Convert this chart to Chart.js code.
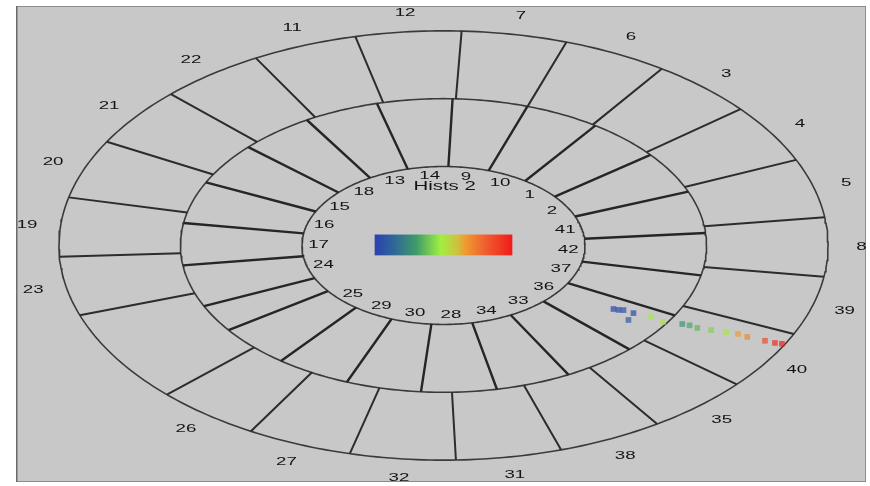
<!DOCTYPE html>
<html>
<head>
<meta charset="utf-8">
<script src="https://cdn.jsdelivr.net/npm/chart.js@4.4.0/dist/chart.umd.min.js"></script>
<style>
  html, body { margin: 0; padding: 0; background: #fff; }
  canvas { display: block; }
</style>
</head>
<body>
<canvas id="ringChart" width="870" height="486"></canvas>
<script>
// module numbers, counter-clockwise starting at the lower left
const outerLabels = ["26", "27", "32", "31", "38", "35", "40", "39", "8", "5", "4",
  "3", "6", "7", "12", "11", "22", "21", "20", "19", "23"];
const innerLabels = ["25", "29", "30", "28", "34", "33", "36", "37", "42", "41", "2",
  "1", "10", "9", "14", "13", "18", "15", "16", "17", "24"];

// hits (unit = outer radius) and their normalised amplitude
const hitX = [0.442, 0.455, 0.468, 0.494, 0.481, 0.540, 0.571, 0.621, 0.640, 0.660, 0.696, 0.735, 0.766, 0.790, 0.836, 0.862, 0.880];
const hitY = [-0.296, -0.300, -0.301, -0.315, -0.347, -0.333, -0.356, -0.366, -0.372, -0.384, -0.394, -0.403, -0.412, -0.426, -0.444, -0.454, -0.458];
const hitValue = [0.02, 0.04, 0.06, 0.04, 0.10, 0.48, 0.52, 0.28, 0.32, 0.36, 0.42, 0.50, 0.66, 0.70, 0.86, 0.95, 0.99];

const title = "Hists 2";

// ring geometry
const R_OUTER = 1, R_MID = 0.684, R_INNER = 0.368;
const OUTER_START = 224, OUTER_STEP = 15.95;
const INNER_START = 215.2, INNER_STEP = 16.63;

const rad = (d) => (d * Math.PI) / 180;

function ring(r) {
  const pts = [];
  for (let a = 0; a <= 360; a += 1) {
    pts.push({ x: r * Math.cos(rad(a)), y: r * Math.sin(rad(a)) });
  }
  return pts;
}

function spokes(start, step, n, r0, r1) {
  const pts = [];
  for (let k = 0; k <= n; k++) {
    const a = rad(start + k * step);
    pts.push({ x: r0 * Math.cos(a), y: r0 * Math.sin(a) });
    pts.push({ x: r1 * Math.cos(a), y: r1 * Math.sin(a) });
    pts.push({ x: 0, y: null });
  }
  return pts;
}

// palette shared by the hits and the colour bar
const palette = [
  [0.0, [42, 64, 176]],
  [0.15, [47, 106, 152]],
  [0.3, [63, 154, 106]],
  [0.48, [160, 240, 64]],
  [0.6, [208, 192, 64]],
  [0.66, [240, 154, 48]],
  [0.8, [240, 96, 48]],
  [1.0, [240, 26, 26]],
];

function colorFor(v, alpha) {
  let c = palette[palette.length - 1][1];
  for (let i = 1; i < palette.length; i++) {
    if (v <= palette[i][0]) {
      const [p0, c0] = palette[i - 1];
      const [p1, c1] = palette[i];
      const t = (v - p0) / (p1 - p0);
      c = c0.map((c, j) => Math.round(c + (c1[j] - c) * t));
      break;
    }
  }
  return `rgba(${c[0]}, ${c[1]}, ${c[2]}, ${alpha === undefined ? 1 : alpha})`;
}

const hits = hitX.map((x, i) => ({ x: x, y: hitY[i] }));

const FONT = '11px "Liberation Sans", Arial, sans-serif';
const STRETCH = 1.7;

function stretchedText(ctx, text, px, py) {
  ctx.save();
  ctx.translate(px, py);
  ctx.scale(STRETCH, 1);
  ctx.fillText(text, 0, 0);
  ctx.restore();
}

const ringDecor = {
  id: "ringDecor",
  beforeDraw(chart) {
    const { ctx, chartArea: a } = chart;
    ctx.save();
    ctx.fillStyle = "#ffffff";
    ctx.fillRect(0, 0, chart.width, chart.height);
    ctx.fillStyle = "#c8c8c8";
    ctx.fillRect(a.left, a.top, a.right - a.left, a.bottom - a.top);
    ctx.strokeStyle = "#8c8c8c";
    ctx.lineWidth = 1;
    ctx.strokeRect(a.left + 0.5, a.top + 0.5, a.right - a.left - 1, a.bottom - a.top - 1);
    ctx.strokeStyle = "#6a6a6a";
    ctx.lineWidth = 1.5;
    ctx.beginPath();
    ctx.moveTo(a.left + 0.75, a.top);
    ctx.lineTo(a.left + 0.75, a.bottom);
    ctx.stroke();
    ctx.restore();
  },
  afterDatasetsDraw(chart) {
    const { ctx } = chart;
    const xs = chart.scales.x, ys = chart.scales.y;
    const px = (v) => xs.getPixelForValue(v);
    const py = (v) => ys.getPixelForValue(v);

    ctx.save();
    ctx.font = FONT;
    ctx.fillStyle = "#141414";
    ctx.textAlign = "center";
    ctx.textBaseline = "middle";

    outerLabels.forEach((lab, k) => {
      const a = rad(OUTER_START + (k + 0.5) * OUTER_STEP);
      stretchedText(ctx, lab, px(1.087 * Math.cos(a)), py(1.087 * Math.sin(a)));
    });
    innerLabels.forEach((lab, k) => {
      const a = rad(INNER_START + (k + 0.5) * INNER_STEP);
      stretchedText(ctx, lab, px(0.325 * Math.cos(a)), py(0.325 * Math.sin(a)));
    });

    ctx.font = '12px "Liberation Sans", Arial, sans-serif';
    stretchedText(ctx, title, px(0.003), py(0.275));

    // colour bar
    const x0 = px(-0.179), x1 = px(0.179);
    const y0 = py(0.051), y1 = py(-0.046);
    const grad = ctx.createLinearGradient(x0, 0, x1, 0);
    palette.forEach(([p]) => grad.addColorStop(p, colorFor(p)));
    ctx.fillStyle = grad;
    ctx.fillRect(x0, y0, x1 - x0, y1 - y0);
    ctx.restore();
  },
};

new Chart(document.querySelector("#ringChart"), {
  type: "scatter",
  data: {
    datasets: [
      {
        label: "hits",
        data: hits,
        pointStyle: "rect",
        pointRadius: 4,
        borderWidth: 0,
        backgroundColor: hitValue.map((v) => colorFor(v, 0.7)),
        showLine: false,
      },
      {
        label: "inner spokes",
        data: spokes(INNER_START, INNER_STEP, innerLabels.length, R_INNER, R_MID),
        showLine: true,
        spanGaps: false,
        pointRadius: 0,
        borderColor: "#262626",
        borderWidth: 2.4,
      },
      {
        label: "outer spokes",
        data: spokes(OUTER_START, OUTER_STEP, outerLabels.length, R_MID, R_OUTER),
        showLine: true,
        spanGaps: false,
        pointRadius: 0,
        borderColor: "#2c2c2c",
        borderWidth: 2,
      },
      ...[R_INNER, R_MID, R_OUTER].map((r) => ({
        label: "ring " + r,
        data: ring(r),
        showLine: true,
        pointRadius: 0,
        borderColor: "#3a3a3a",
        borderWidth: 1.6,
      })),
    ],
  },
  options: {
    responsive: false,
    animation: false,
    devicePixelRatio: 1,
    layout: { padding: { left: 16, top: 6, right: 3, bottom: 1 } },
    scales: {
      x: { type: "linear", min: -1.1117, max: 1.0987, display: false },
      y: { type: "linear", min: -1.1019, max: 1.1157, display: false },
    },
    plugins: {
      legend: { display: false },
      tooltip: { enabled: false },
    },
  },
  plugins: [ringDecor],
});
</script>
</body>
</html>
